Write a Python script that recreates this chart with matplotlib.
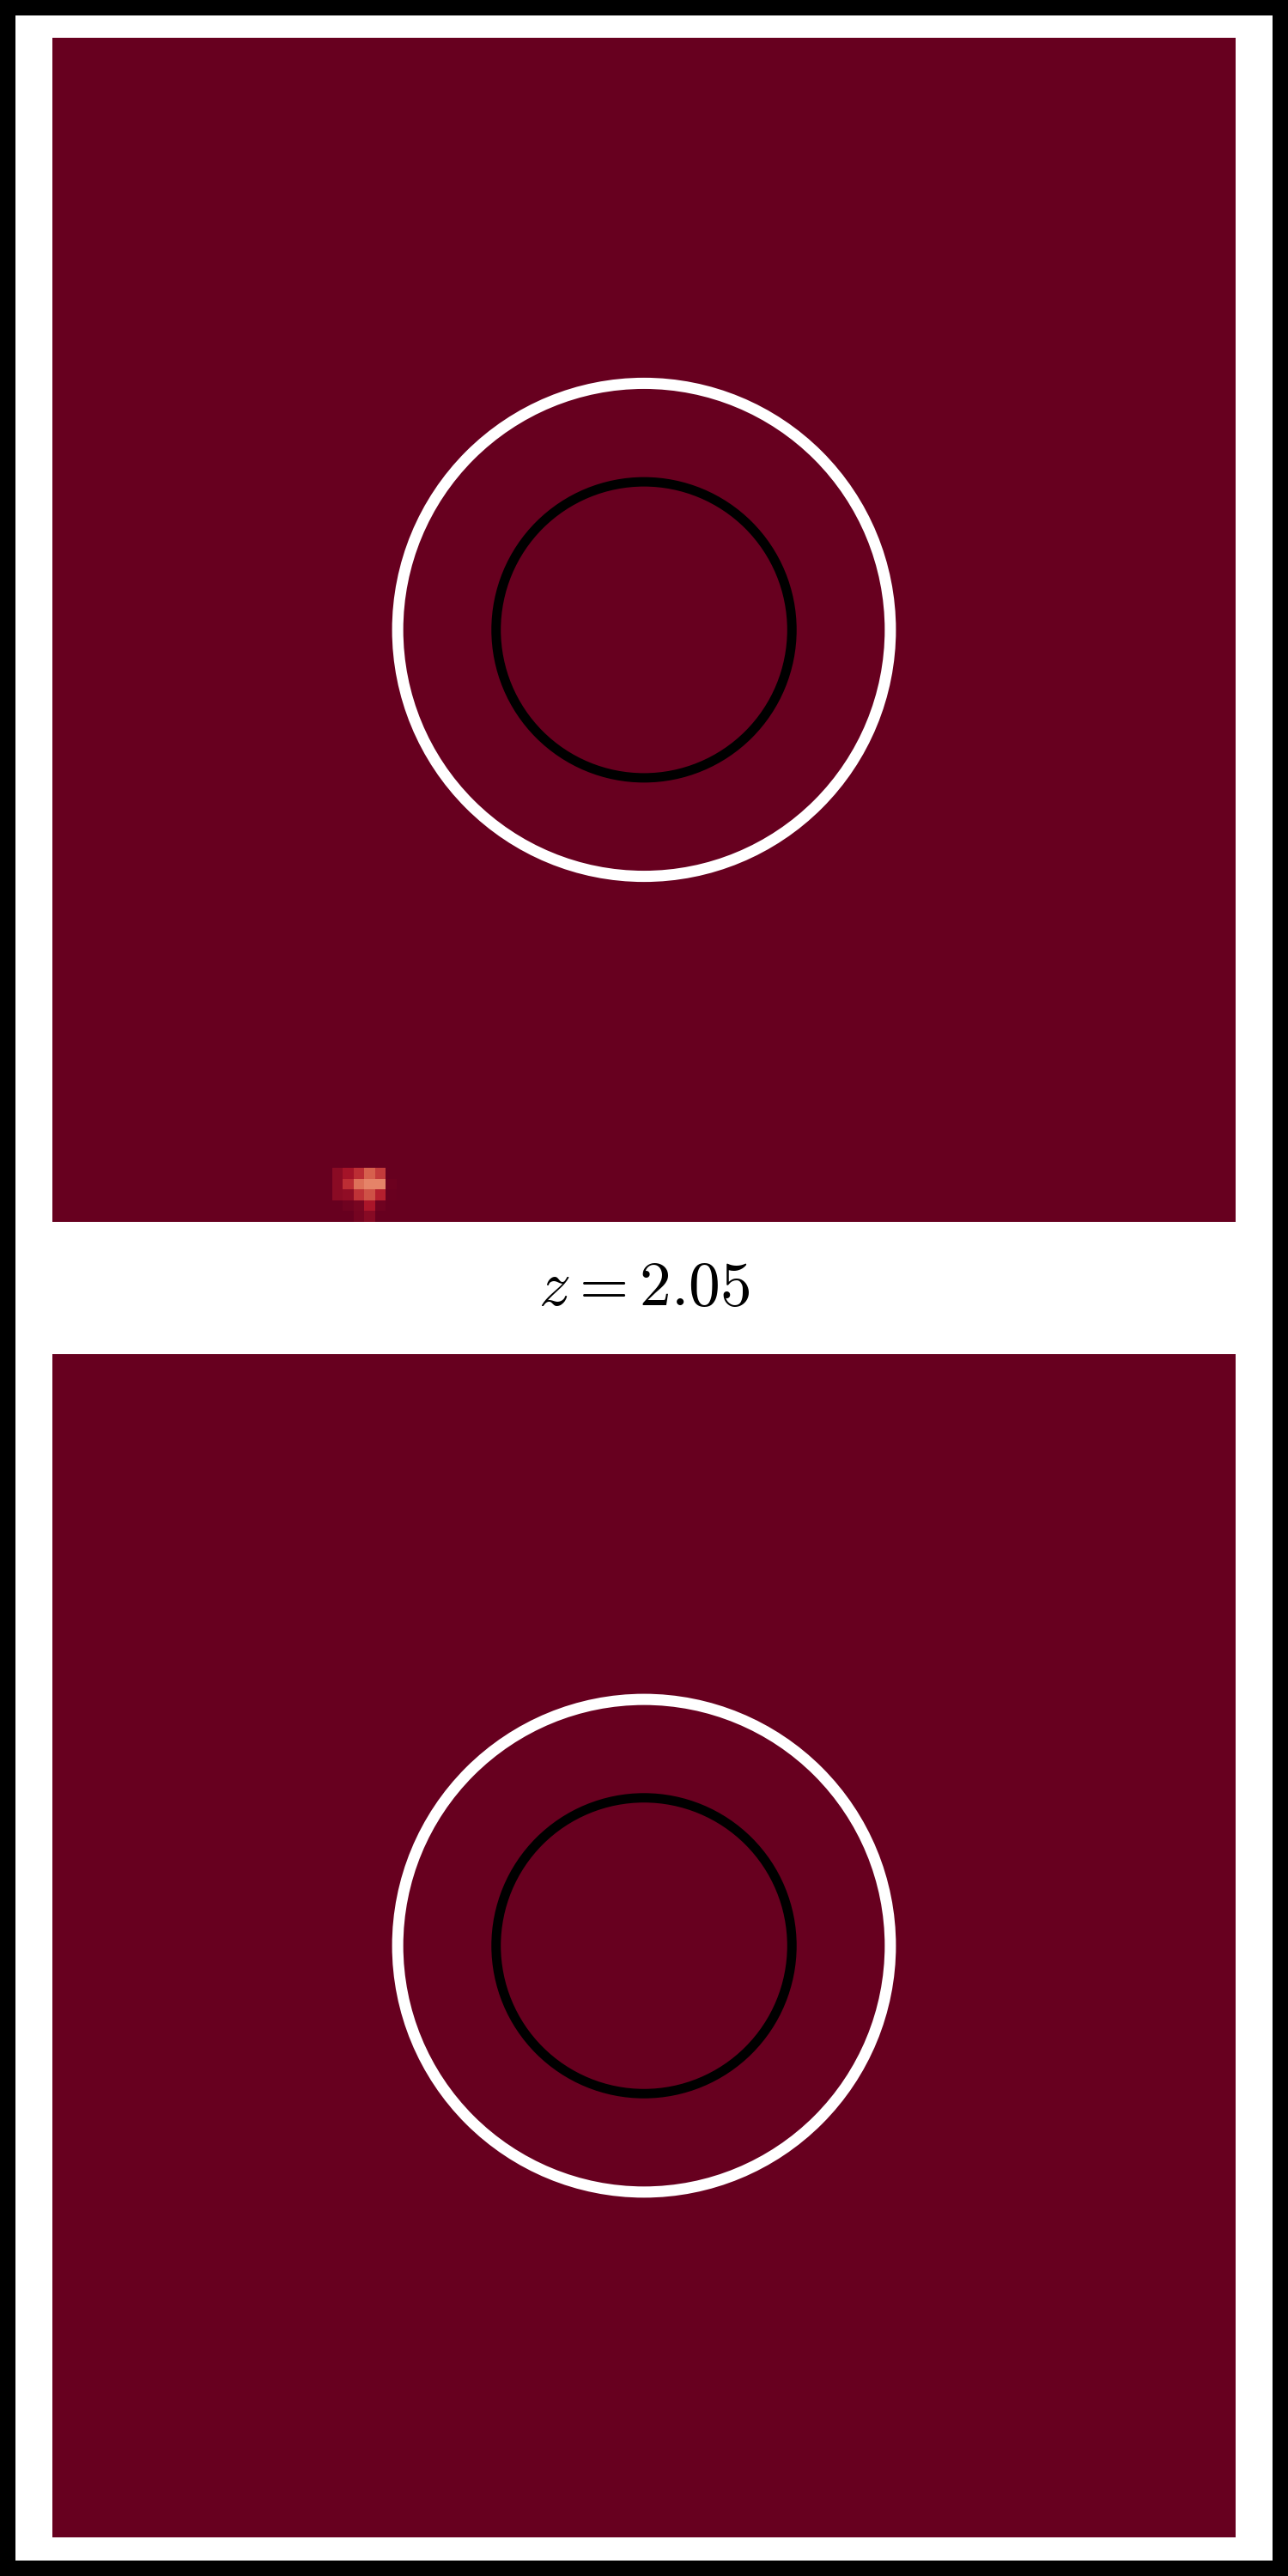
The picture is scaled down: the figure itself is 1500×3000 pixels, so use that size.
import numpy as np
import matplotlib
matplotlib.use("Agg")
import matplotlib.pyplot as plt
from matplotlib.patches import Circle, Rectangle

plt.rcParams['mathtext.fontset'] = 'cm'

# map data (normalised to the colour range, 0 = vmin)
grid_size = 110
background = 0.0
spot_row0 = 105
spot_col0 = 26
spot_values = [
    [0.05, 0.085, 0.13, 0.20, 0.15, 0.0],
    [0.05, 0.13, 0.225, 0.25, 0.25, 0.01],
    [0.05, 0.055, 0.14, 0.18, 0.11, 0.005],
    [0.0, 0.015, 0.025, 0.09, 0.015, 0.0],
    [0.0, 0.0, 0.02, 0.045, 0.0, 0.0],
]
r_outer = 22.9
r_inner = 13.75
title = r'$z = 2.05$'

top_map = np.full((grid_size, grid_size), background)
spot = np.array(spot_values)
top_map[spot_row0:spot_row0 + spot.shape[0], spot_col0:spot_col0 + spot.shape[1]] = spot
bottom_map = np.full((grid_size, grid_size), background)

fig = plt.figure(figsize=(15, 30), dpi=100)

W, H = 1500.0, 3000.0
panels = [(61, 44, 1378, 1379), (61, 1577, 1378, 1378)]
maps = [top_map, bottom_map]

centre = (grid_size - 1) / 2.0
for (x0, y0, w, h), m in zip(panels, maps):
    ax = fig.add_axes([x0 / W, 1 - (y0 + h) / H, w / W, h / H])
    ax.imshow(m, cmap='RdBu', vmin=0, vmax=1, interpolation='nearest', aspect='auto')
    ax.add_patch(Circle((centre, centre), r_outer, fill=False, ec='white', lw=9.4))
    ax.add_patch(Circle((centre, centre), r_inner, fill=False, ec='black', lw=7.9))
    ax.set_axis_off()

fig.text(0.5, 1 - 1500 / H, title, ha='center', va='center', fontsize=53)

# black frame round the figure
fig.patches.append(Rectangle((0, 0), 1, 1, transform=fig.transFigure, fill=False,
                             ec='black', lw=36 * 72 / 100.0))

fig.savefig('out.png', dpi=100)
